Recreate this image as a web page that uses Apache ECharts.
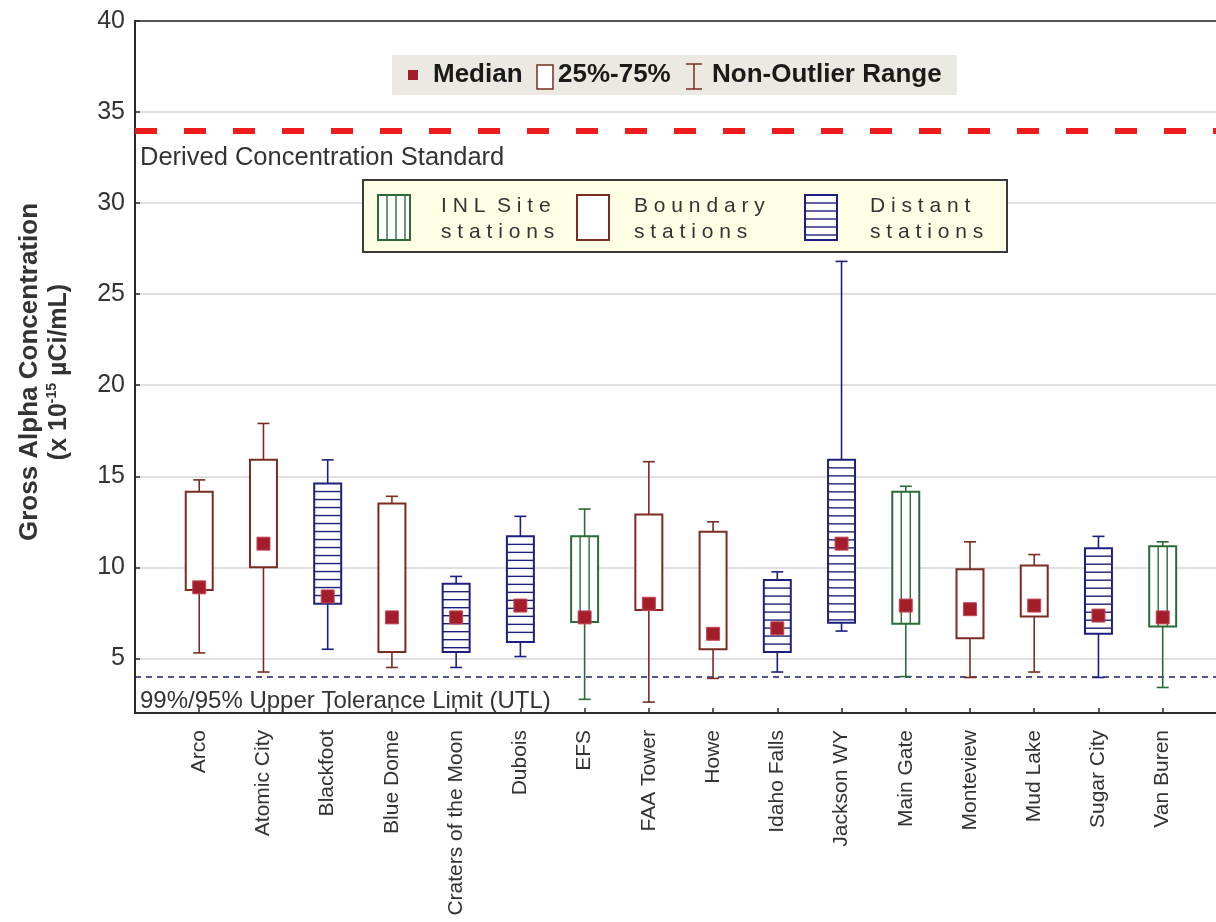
<!DOCTYPE html>
<html>
<head>
<meta charset="utf-8">
<title>Gross Alpha Concentration by Station</title>
<script src="https://cdn.jsdelivr.net/npm/echarts@6/dist/echarts.min.js"></script>
<style>
  html, body { margin: 0; padding: 0; background: #ffffff; }
  #chart { width: 1216px; height: 922px; }
</style>
</head>
<body>
<div id="chart"></div>
<script>
// Stations along the x axis, with their network group
const stations = ['Arco', 'Atomic City', 'Blackfoot', 'Blue Dome', 'Craters of the Moon', 'Dubois', 'EFS',
  'FAA Tower', 'Howe', 'Idaho Falls', 'Jackson WY', 'Main Gate', 'Monteview', 'Mud Lake', 'Sugar City', 'Van Buren'];
const stationGroup = ['Boundary', 'Boundary', 'Distant', 'Boundary', 'Distant', 'Distant', 'INL',
  'Boundary', 'Boundary', 'Distant', 'Distant', 'INL', 'Boundary', 'Boundary', 'Distant', 'INL'];

// Box statistics (x 10^-15 µCi/mL)
const lowWhisker = [5.3, 4.25, 5.5, 4.5, 4.5, 5.1, 2.75, 2.6, 3.9, 4.25, 6.5, 4.0, 3.95, 4.25, 3.95, 3.4];
const q1 = [8.75, 10.0, 8.0, 5.35, 5.35, 5.9, 7.0, 7.65, 5.5, 5.35, 6.95, 6.9, 6.1, 7.3, 6.35, 6.75];
const median = [8.9, 11.3, 8.4, 7.25, 7.25, 7.9, 7.25, 8.0, 6.35, 6.65, 11.3, 7.9, 7.7, 7.9, 7.35, 7.25];
const q3 = [14.15, 15.9, 14.6, 13.5, 9.1, 11.7, 11.7, 12.9, 11.95, 9.3, 15.9, 14.15, 9.9, 10.1, 11.05, 11.15];
const highWhisker = [14.8, 17.9, 15.9, 13.9, 9.5, 12.8, 13.2, 15.8, 12.5, 9.75, 26.8, 14.45, 11.4, 10.7, 11.7, 11.4];

// Reference levels
const derivedConcentrationStandard = 34;
const upperToleranceLimit = 4;

// Y axis tick labels
const yTicks = [5, 10, 15, 20, 25, 30, 35, 40];
// X axis positions of the stations
const stationPositions = stations.map((_, k) => k + 1);

const groupColor = { Boundary: '#7a2b22', Distant: '#1d1f80', INL: '#2c6b38' };
const medianColor = '#a31d2b';
const FONT = '"Liberation Sans", Arial, sans-serif';

const boxData = stations.map((_, k) => [k + 1, lowWhisker[k], q1[k], median[k], q3[k], highWhisker[k]]);

// Hatch lines inside a box: horizontal for Distant, vertical for INL Site
function hatchLines(kind, x0, y0, w, h, color) {
  const out = [];
  const style = { stroke: color, lineWidth: 1.4 };
  if (kind === 'Distant') {
    for (let y = y0 + 8; y < y0 + h - 2; y += 8) {
      out.push({ type: 'line', shape: { x1: x0, y1: y, x2: x0 + w, y2: y }, style });
    }
  } else if (kind === 'INL') {
    for (let x = x0 + 9; x < x0 + w - 3; x += 9) {
      out.push({ type: 'line', shape: { x1: x, y1: y0, x2: x, y2: y0 + h }, style });
    }
  }
  return out;
}

function renderBox(params, api) {
  const i = api.value(0);
  const kind = stationGroup[params.dataIndex];
  const color = groupColor[kind];
  const xc = api.coord([i, 0])[0];
  const half = api.size([1, 0])[0] * 0.21;
  const cap = 6;
  const yLow = api.coord([i, api.value(1)])[1];
  const yQ1 = api.coord([i, api.value(2)])[1];
  const yMed = api.coord([i, api.value(3)])[1];
  const yQ3 = api.coord([i, api.value(4)])[1];
  const yHigh = api.coord([i, api.value(5)])[1];
  const ls = { stroke: color, lineWidth: 1.6 };
  const children = [
    { type: 'line', shape: { x1: xc, y1: yHigh, x2: xc, y2: yQ3 }, style: ls },
    { type: 'line', shape: { x1: xc, y1: yQ1, x2: xc, y2: yLow }, style: ls },
    { type: 'line', shape: { x1: xc - cap, y1: yHigh, x2: xc + cap, y2: yHigh }, style: ls },
    { type: 'line', shape: { x1: xc - cap, y1: yLow, x2: xc + cap, y2: yLow }, style: ls },
    { type: 'rect', shape: { x: xc - half, y: yQ3, width: 2 * half, height: yQ1 - yQ3 },
      style: { fill: '#ffffff', stroke: null } }
  ];
  hatchLines(kind, xc - half, yQ3, 2 * half, yQ1 - yQ3, color).forEach(c => children.push(c));
  children.push({ type: 'rect', shape: { x: xc - half, y: yQ3, width: 2 * half, height: yQ1 - yQ3 },
    style: { fill: null, stroke: color, lineWidth: 2 } });
  children.push({ type: 'rect', shape: { x: xc - 6.5, y: yMed - 6.5, width: 13, height: 13 },
    style: { fill: medianColor, stroke: '#c24a55', lineWidth: 1 } });
  return { type: 'group', children };
}

// Legend icons and labels
const legendFont = 'bold 26px ' + FONT;
const legendTop = [
  { type: 'rect', shape: { x: 392, y: 55, width: 565, height: 40 }, style: { fill: '#ebe9e1' }, z: 10 },
  { type: 'rect', shape: { x: 408, y: 70, width: 10, height: 10 }, style: { fill: medianColor }, z: 11 },
  { type: 'text', x: 433, y: 75, style: { text: 'Median', font: legendFont, fill: '#1a1a1a', verticalAlign: 'middle' }, z: 11 },
  { type: 'rect', shape: { x: 537, y: 65, width: 16, height: 24 }, style: { fill: '#ffffff', stroke: groupColor.Boundary, lineWidth: 1.5 }, z: 11 },
  { type: 'text', x: 558, y: 75, style: { text: '25%-75%', font: legendFont, fill: '#1a1a1a', verticalAlign: 'middle' }, z: 11 },
  { type: 'line', shape: { x1: 694, y1: 64, x2: 694, y2: 89 }, style: { stroke: groupColor.Boundary, lineWidth: 1.5 }, z: 11 },
  { type: 'line', shape: { x1: 686, y1: 64, x2: 702, y2: 64 }, style: { stroke: groupColor.Boundary, lineWidth: 1.5 }, z: 11 },
  { type: 'line', shape: { x1: 686, y1: 89, x2: 702, y2: 89 }, style: { stroke: groupColor.Boundary, lineWidth: 1.5 }, z: 11 },
  { type: 'text', x: 712, y: 75, style: { text: 'Non-Outlier Range', font: legendFont, fill: '#1a1a1a', verticalAlign: 'middle' }, z: 11 }
];

function legendIcon(kind, x, y) {
  const w = 32, h = 45, color = groupColor[kind];
  const parts = [{ type: 'rect', shape: { x, y, width: w, height: h }, style: { fill: '#ffffff', stroke: null }, z: 21 }];
  hatchLines(kind, x, y, w, h, color).forEach(c => { c.z = 22; parts.push(c); });
  parts.push({ type: 'rect', shape: { x, y, width: w, height: h }, style: { fill: null, stroke: color, lineWidth: 2 }, z: 23 });
  return parts;
}

function legendLabel(x, line1, line2) {
  return [
    { type: 'text', x, y: 206, style: { text: line1, font: '21px ' + FONT, fill: '#333333', verticalAlign: 'middle' }, z: 22 },
    { type: 'text', x, y: 232, style: { text: line2, font: '21px ' + FONT, fill: '#333333', verticalAlign: 'middle' }, z: 22 }
  ];
}

const legendGroups = [
  { type: 'rect', shape: { x: 363, y: 180, width: 644, height: 72 }, style: { fill: '#ffffe6', stroke: '#3a3a3a', lineWidth: 2 }, z: 20 },
  ...legendIcon('INL', 378, 195),
  ...legendLabel(441, 'I N L  S i t e', 's t a t i o n s'),
  ...legendIcon('Boundary', 577, 195),
  ...legendLabel(634, 'B o u n d a r y', 's t a t i o n s'),
  ...legendIcon('Distant', 805, 195),
  ...legendLabel(870, 'D i s t a n t', 's t a t i o n s')
];

const yTitle = [
  { type: 'text', x: 30, y: 372, rotation: Math.PI / 2,
    style: { text: 'Gross Alpha Concentration', font: 'bold 26px ' + FONT, fill: '#333333', align: 'center', verticalAlign: 'middle' } },
  { type: 'text', x: 59, y: 372, rotation: Math.PI / 2,
    style: { text: '(x 10{sup|-15} µCi/mL)', font: 'bold 25px ' + FONT, fill: '#333333', align: 'center', verticalAlign: 'middle',
      lineHeight: 28, rich: { sup: { font: 'bold 14px ' + FONT, fill: '#333333', verticalAlign: 'top', lineHeight: 28 } } } }
];

const chart = echarts.init(document.getElementById('chart'), null, { renderer: 'canvas' });
chart.setOption({
  animation: false,
  backgroundColor: '#ffffff',
  grid: { left: 135, top: 21, right: 0, height: 692, show: false },
  xAxis: [
    {
      type: 'value', min: 0, max: 16.83,
      axisLine: { show: true, lineStyle: { color: '#2a2a2a', width: 2 } },
      axisTick: { show: true, inside: true, length: 5, customValues: stationPositions, lineStyle: { color: '#2a2a2a', width: 1.5 } },
      splitLine: { show: false },
      axisLabel: {
        customValues: stationPositions,
        rotate: 90, margin: 17, fontSize: 21, color: '#333333', fontFamily: FONT,
        formatter: v => stations[v - 1] || ''
      }
    },
    {
      // top frame line
      type: 'value', position: 'top', min: 0, max: 16.83,
      axisLine: { show: true, lineStyle: { color: '#2a2a2a', width: 1.5 } },
      axisTick: { show: false }, axisLabel: { show: false }, splitLine: { show: false }
    }
  ],
  yAxis: {
    type: 'value', min: 2, max: 40,
    axisLine: { show: true, lineStyle: { color: '#2a2a2a', width: 2 } },
    axisTick: { show: true, inside: true, length: 5, customValues: yTicks, lineStyle: { color: '#2a2a2a', width: 1.5 } },
    axisLabel: { customValues: yTicks, fontSize: 25, color: '#333333', fontFamily: FONT, margin: 10 },
    splitLine: { show: true, lineStyle: { color: '#d6d6d6', width: 1.5 } }
  },
  series: [
    {
      type: 'custom',
      xAxisIndex: 0,
      renderItem: renderBox,
      data: boxData,
      z: 5,
      markLine: {
        symbol: 'none', silent: true, z: 4,
        data: [
          { yAxis: derivedConcentrationStandard,
            lineStyle: { color: '#ee1c1c', width: 6, type: [22, 27] },
            label: { show: true, position: 'insideStartBottom', distance: [5, 15], formatter: 'Derived Concentration Standard',
              fontSize: 25.5, color: '#333333', fontFamily: FONT } },
          { yAxis: upperToleranceLimit,
            lineStyle: { color: '#1d1f6e', width: 1.5, type: [6, 5] },
            label: { show: true, position: 'insideStartBottom', distance: [5, 13], formatter: '99%/95% Upper Tolerance Limit (UTL)',
              fontSize: 24, color: '#333333', fontFamily: FONT } }
        ]
      }
    }
  ],
  graphic: [...yTitle, ...legendTop, ...legendGroups]
});
</script>
</body>
</html>
